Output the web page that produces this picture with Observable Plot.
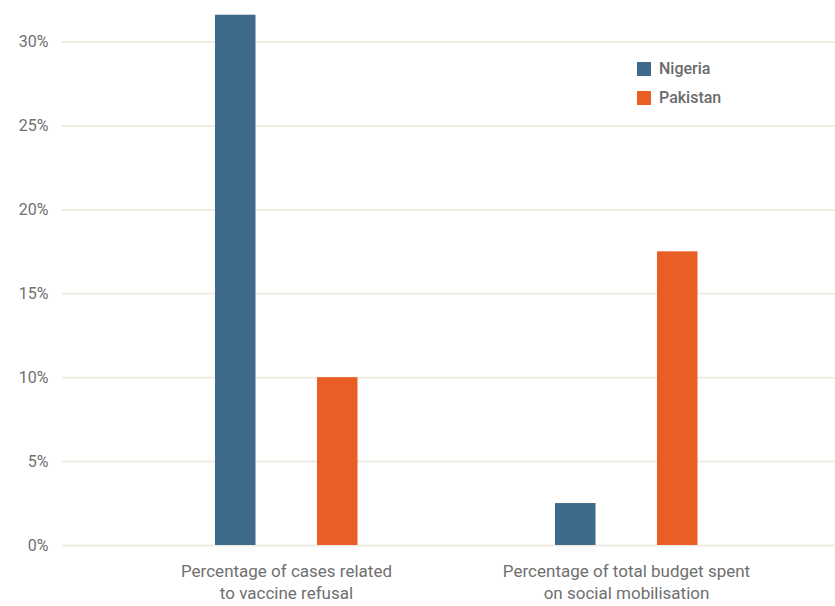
<!DOCTYPE html>
<html>
<head>
<meta charset="utf-8">
<script src="https://cdn.jsdelivr.net/npm/d3@7"></script>
<script src="https://cdn.jsdelivr.net/npm/@observablehq/plot@0.6"></script>
<style>
  html, body { margin: 0; padding: 0; background: #fff; }
  #wrap { position: relative; width: 835px; height: 606px; }
  #legend { position: absolute; left: 637px; top: 54px; font-family: Roboto, sans-serif; font-size: 16px; font-weight: 500; color: #6b6b6b; }
  #legend .row { display: flex; align-items: center; height: 29px; }
  #legend .sw { width: 14px; height: 14px; margin-right: 8px; }
</style>
</head>
<body>
<div id="wrap"><div id="legend"></div></div>
<script>
const categories = ["Percentage of cases related\nto vaccine refusal", "Percentage of total budget spent\non social mobilisation"];
const countries = ["Nigeria", "Pakistan"];
const nigeria = [31.6, 2.5];
const pakistan = [10, 17.5];
const yTicks = [0, 5, 10, 15, 20, 25, 30];
const colors = ["#3e6a8b", "#e85e24"];

const data = [];
categories.forEach((c, i) => {
  data.push({category: c, country: "Nigeria", value: nigeria[i]});
  data.push({category: c, country: "Pakistan", value: pakistan[i]});
});

const chart = Plot.plot({
  width: 835,
  height: 606,
  marginLeft: 62,
  marginRight: 0,
  marginTop: 8,
  marginBottom: 61,
  style: {fontFamily: "Roboto, sans-serif", background: "#fff"},
  x: {domain: categories, paddingInner: 0, paddingOuter: 0.135, align: 0.576},
  y: {domain: [0, 32]},
  color: {domain: countries, range: colors},
  marks: [
    Plot.ruleY(yTicks, {stroke: "#efece3", strokeWidth: 2}),
    Plot.barY(data.filter(d => d.country === "Nigeria"), {x: "category", y: "value", fill: "country", insetLeft: 99, insetRight: 200.5}),
    Plot.barY(data.filter(d => d.country === "Pakistan"), {x: "category", y: "value", fill: "country", insetLeft: 201, insetRight: 98.5}),
    Plot.axisY({ticks: yTicks, tickFormat: d => d + "%", tickSize: 0, tickPadding: 14, fontSize: 16, color: "#6f6f6f", label: null}),
    Plot.axisX({tickSize: 0, tickPadding: 16, fontSize: 17, color: "#6f6f6f", lineHeight: 1.3, label: null})
  ]
});
document.getElementById("wrap").prepend(chart);

const legend = document.getElementById("legend");
countries.forEach((c, i) => {
  const row = document.createElement("div");
  row.className = "row";
  row.innerHTML = `<div class="sw" style="background:${colors[i]}"></div><span>${c}</span>`;
  legend.appendChild(row);
});
</script>
</body>
</html>
